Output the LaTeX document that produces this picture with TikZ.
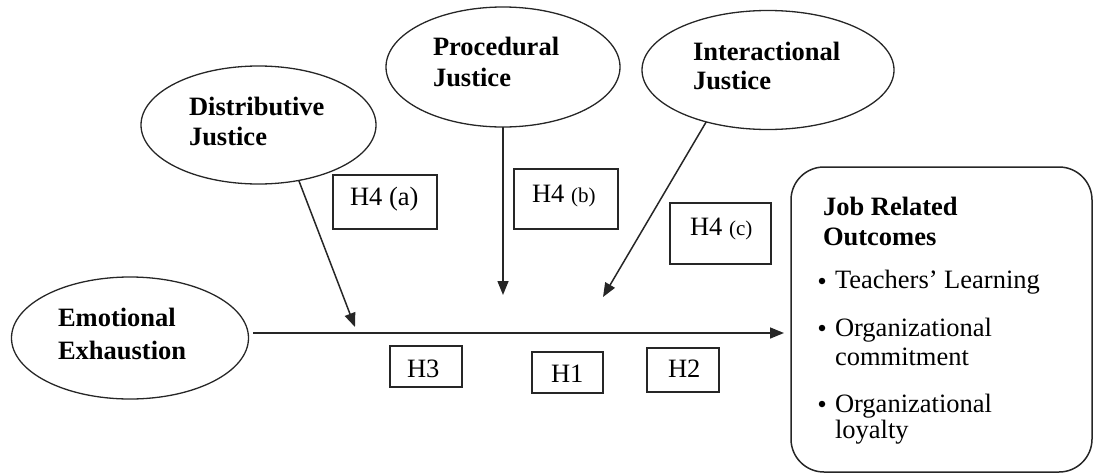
\documentclass[tikz,border=0pt]{standalone}
\usepackage{fontspec}
\setmainfont{Liberation Serif}
\usetikzlibrary{arrows.meta,shapes.geometric}
\begin{document}
\begin{tikzpicture}[x=1pt,y=-1pt,
  every node/.style={inner sep=0pt, outer sep=0pt},
  ell/.style={draw=black!85, line width=1.3pt, ellipse},
  hbox/.style={draw=black!85, line width=1.6pt, rectangle},
  lab/.style={anchor=base west, font=\fontsize{26.5}{30}\selectfont},
  blab/.style={anchor=base west, font=\fontsize{26.5}{30}\selectfont\bfseries},
  arr/.style={draw=black!85, line width=1.5pt, -{Triangle[length=14pt,width=11pt]}},
  bul/.style={circle, fill=black, minimum size=6.5pt},
  sm/.style={font=\fontsize{21}{24}\selectfont}
]
\useasboundingbox (0,0) rectangle (1094,474);

% ellipses
\node[ell, minimum width=235pt, minimum height=118pt] (dj) at (258.5,125) {};
\node[ell, minimum width=234pt, minimum height=120pt] (pj) at (503,67) {};
\node[ell, minimum width=252pt, minimum height=119pt] (ij) at (768,70) {};
\node[ell, minimum width=237pt, minimum height=122pt] (ee) at (130,338) {};

\node[blab] (dj1) at (189,115) {Distributive};
\node[blab] (dj2) at (189,145) {Justice};
\node[blab] (pj1) at (433,55) {Procedural};
\node[blab] (pj2) at (433,86) {Justice};
\node[blab] (ij1) at (693,60) {Interactional};
\node[blab] (ij2) at (693,89) {Justice};
\node[blab] (ee1) at (58,326) {Emotional};
\node[blab] (ee2) at (58,359) {Exhaustion};

% outcome box
\node[draw=black!85, line width=1.5pt, rectangle, rounded corners=33pt,
      minimum width=301pt, minimum height=305pt] (jo) at (941.5,319.5) {};
\node[blab] (jo1) at (823,215) {Job Related};
\node[blab] (jo2) at (823,245) {Outcomes};
\node[bul] (b1) at (822,281) {};
\node[lab] (t1) at (835,288) {Teachers’ Learning};
\node[bul] (b2) at (822,328) {};
\node[lab] (t2) at (835,336) {Organizational};
\node[lab] (t3) at (835,365) {commitment};
\node[bul] (b3) at (822,404) {};
\node[lab] (t4) at (835,412) {Organizational};
\node[lab] (t5) at (835,438) {loyalty};

% hypothesis boxes
\node[hbox, minimum width=104pt, minimum height=54pt] (h4a) at (385,202) {};
\node[lab] (h4at) at (350,205) {H4 (a)};
\node[hbox, minimum width=104pt, minimum height=60pt] (h4b) at (566,199) {};
\node[lab] (h4bt) at (532,202) {H4 {\fontsize{21}{24}\selectfont(b)}};
\node[hbox, minimum width=101pt, minimum height=61pt] (h4c) at (720.5,233.5) {};
\node[lab] (h4ct) at (690,235) {H4 {\fontsize{21}{24}\selectfont(c)}};
\node[hbox, minimum width=72pt, minimum height=41pt] (h3) at (426,366.5) {};
\node[lab] (h3t) at (407,377) {H3};
\node[hbox, minimum width=71pt, minimum height=41pt] (h1) at (567.5,372.5) {};
\node[lab] (h1t) at (551,382) {H1};
\node[hbox, minimum width=72pt, minimum height=44pt] (h2) at (683,370) {};
\node[lab] (h2t) at (668,377) {H2};

% connectors
\coordinate (ms) at (253,333);
\coordinate (me) at (784,333);
\coordinate (tA) at (355,327);
\coordinate (tB) at (503,295);
\coordinate (tC) at (603,297);

\draw[arr] (ms) -- (me);
\draw[arr] (dj.-54) -- (tA);
\draw[arr] (pj.south) -- (tB);
\draw[arr] (ij.-140) -- (tC);
\end{tikzpicture}
\end{document}
